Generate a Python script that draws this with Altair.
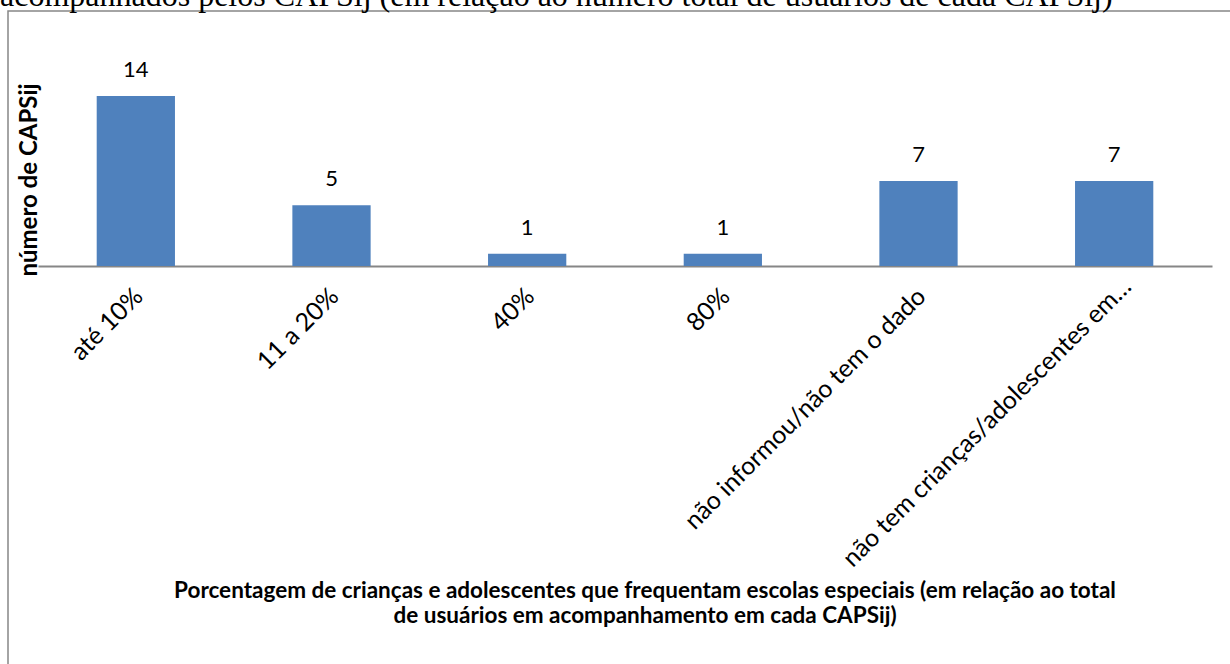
import altair as alt
import pandas as pd

categories = ["até 10%", "11 a 20%", "40%", "80%",
              "não informou/não tem o dado",
              "não tem crianças/adolescentes em…"]
values = [14, 5, 1, 1, 7, 7]
x_title_lines = ["Porcentagem de crianças e adolescentes que frequentam escolas especiais (em relação ao total",
                 "de usuários em acompanhamento em cada CAPSij)"]
y_title = "número de CAPSij"
top_text = "acompanhados pelos CAPSij (em relação ao número total de usuários de cada CAPSij)"

df = pd.DataFrame({"cat": categories, "n": values})
one = pd.DataFrame({"a": [0]})

W, H = 1174, 170
PL, PT = 38, 96
FONT = "Lato"
last_test = "datum.value == '" + categories[-1] + "'"

x = alt.X("cat:N", sort=categories,
          scale=alt.Scale(paddingInner=0.6, paddingOuter=0.3),
          axis=alt.Axis(title=None, labelAngle=-45, labelAlign="right",
                        labelBaseline="middle", labelFont=FONT, labelFontSize=25,
                        labelColor="black",
                        labelPadding={"condition": {"test": last_test, "value": 16}, "value": 26},
                        labelOffset={"condition": {"test": last_test, "value": 13}, "value": 3},
                        ticks=False,
                        domainColor="#868686", domainWidth=2, labelLimit=0))
y = alt.Y("n:Q", scale=alt.Scale(domain=[0, 14]), axis=None)

bars = alt.Chart(df).mark_bar(color="#4F81BD").encode(x=x, y=y)
labels = alt.Chart(df).mark_text(font=FONT, fontSize=22, dy=-19,
                                 baseline="alphabetic", color="black").encode(
    x=x, y=y, text="n:Q")

border = alt.Chart(one).mark_rect(fillOpacity=0, stroke="#878787", strokeWidth=1.5).encode(
    x=alt.value(8 - PL), x2=alt.value(1400), y=alt.value(11 - PT), y2=alt.value(800))

top = alt.Chart(one).mark_text(font="Liberation Serif", fontSize=32, align="left",
                               baseline="alphabetic", color="black").encode(
    x=alt.value(0 - PL), y=alt.value(6 - PT), text=alt.value(top_text))

xt = alt.Chart(one).mark_text(font=FONT, fontSize=22.5, fontWeight="bold", align="center",
                              baseline="top", lineHeight=25, color="black",
                              text=x_title_lines).encode(
    x=alt.value(645 - PL), y=alt.value(580 - PT))

yt = alt.Chart(one).mark_text(font=FONT, fontSize=24, fontWeight="bold", align="center",
                              baseline="middle", angle=270, color="black").encode(
    x=alt.value(30 - PL), y=alt.value(180 - PT), text=alt.value(y_title))

chart = alt.layer(border, bars, labels, top, xt, yt).properties(
    width=W, height=H,
    autosize=alt.AutoSizeParams(type="none"),
    padding={"left": PL, "top": PT, "right": 1230 - PL - W, "bottom": 664 - PT - H},
    background="white",
).configure_view(strokeWidth=0)

chart.save("out.html", embed_options={"renderer": "svg", "actions": False})
